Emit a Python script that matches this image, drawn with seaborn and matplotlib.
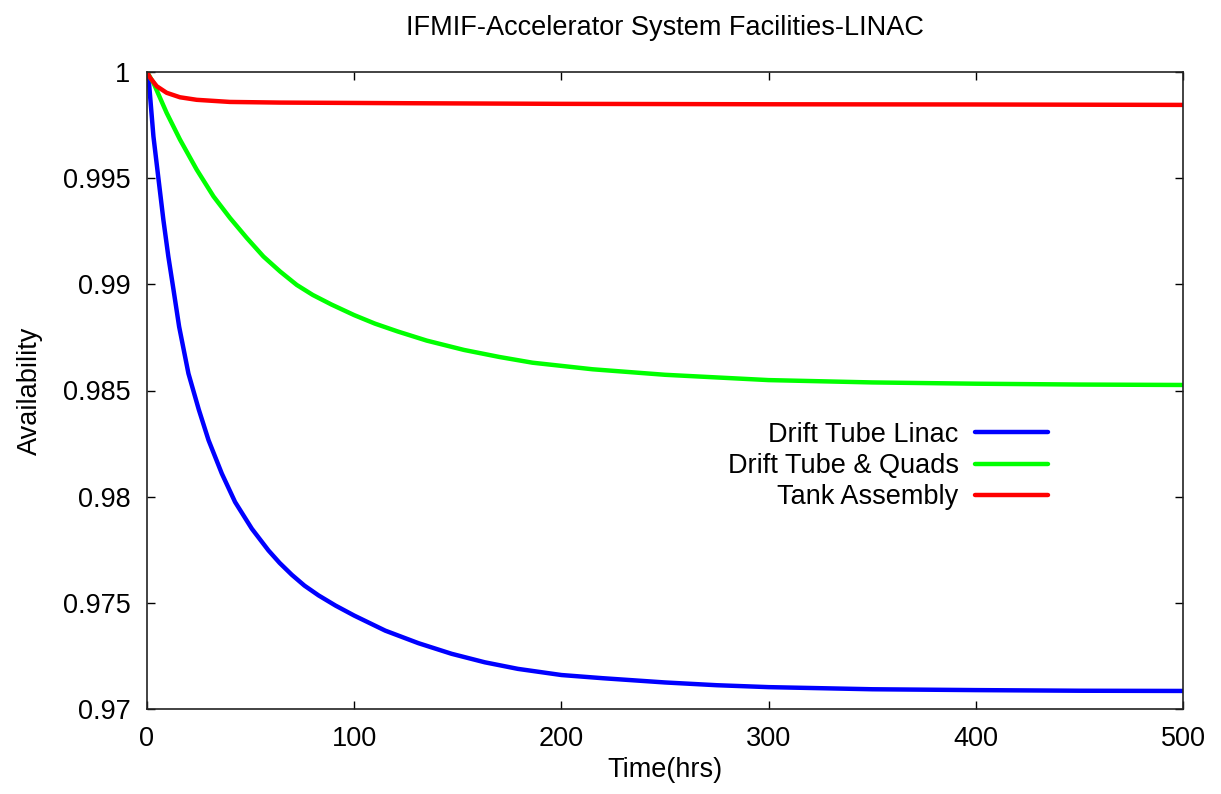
import pandas as pd
import matplotlib
matplotlib.use("Agg")
import matplotlib.pyplot as plt
import seaborn as sns

# values
dtl_t = [0, 0.7, 3.1, 5.5, 7.9, 10.3, 12.8, 15.5, 20, 25, 29.7, 36.1, 42.5, 50.6, 58.6, 64, 69.9, 76, 82.8,
         91, 100, 115, 131, 147, 163, 179, 200, 220, 250, 275, 300, 350, 400, 450, 500]
dtl_a = [1.0, 0.9998, 0.99697, 0.9950, 0.99304, 0.99131, 0.98974, 0.98801, 0.9858, 0.9841, 0.98266, 0.98109,
         0.97975, 0.97849, 0.97747, 0.97688, 0.97632, 0.97581, 0.97535, 0.97487, 0.9744, 0.97369, 0.9731,
         0.9726, 0.9722, 0.97189, 0.9716, 0.97145, 0.97125, 0.97112, 0.97103, 0.97093, 0.97089, 0.97086, 0.97085]

quad_t = [0, 3.1, 9.5, 15.9, 24, 32.1, 40.1, 48.2, 56.2, 64.3, 72.3, 80, 89, 100, 110, 121, 135, 153, 170,
          186, 215, 250, 300, 350, 400, 450, 500]
quad_a = [1.0, 0.99949, 0.99807, 0.99682, 0.9954, 0.99414, 0.99312, 0.99218, 0.99131, 0.9906, 0.98997,
          0.98950, 0.98905, 0.98855, 0.98815, 0.98778, 0.98735, 0.98691, 0.98658, 0.98631, 0.98600,
          0.98574, 0.98549, 0.98538, 0.98532, 0.98528, 0.98526]

tank_t = [0, 1.5, 4.7, 9.5, 15.9, 24, 40, 64, 125, 200, 300, 400, 500]
tank_a = [1.0, 0.99973, 0.99933, 0.99902, 0.99881, 0.99869, 0.99859, 0.99856, 0.99853, 0.99850, 0.99848,
          0.99847, 0.99845]

series_names = ["Drift Tube Linac", "Drift Tube & Quads", "Tank Assembly"]
series_colors = ["#0000ff", "#00ff00", "#ff0000"]


def build_frame():
    frames = []
    for name, t, a in zip(series_names, [dtl_t, quad_t, tank_t], [dtl_a, quad_a, tank_a]):
        frames.append(pd.DataFrame({"Time": t, "Availability": a, "Series": name}))
    return pd.concat(frames, ignore_index=True)


def main():
    sns.set_theme(style="ticks")
    plt.rcParams["font.family"] = ["Liberation Sans", "DejaVu Sans"]
    plt.rcParams["text.color"] = "black"
    plt.rcParams["axes.labelcolor"] = "black"
    fs = 19.5

    df = build_frame()

    fig = plt.figure(figsize=(12.21, 7.94), dpi=100)
    ax = fig.add_axes([147 / 1221, 1 - 709 / 794, (1183 - 147) / 1221, (709 - 72) / 794])

    sns.lineplot(data=df, x="Time", y="Availability", hue="Series", hue_order=series_names,
                 palette=series_colors, linewidth=3.2, ax=ax, legend=False)

    ax.set_xlim(0, 500)
    ax.set_ylim(0.97, 1.0)
    ax.set_xticks([0, 100, 200, 300, 400, 500])
    ax.set_yticks([0.97, 0.975, 0.98, 0.985, 0.99, 0.995, 1.0])
    ax.set_yticklabels(["0.97", "0.975", "0.98", "0.985", "0.99", "0.995", "1"])
    ax.tick_params(direction="in", length=6, width=1, top=True, right=True,
                   labelsize=fs, colors="black", pad=12)
    for sp in ax.spines.values():
        sp.set_visible(True)
        sp.set_color("#222222")
        sp.set_linewidth(1.2)

    ax.set_xlabel("Time(hrs)", fontsize=fs, labelpad=4)
    ax.set_ylabel("Availability", fontsize=fs, labelpad=14)
    fig.text(0.5 * (147 + 1183) / 1221, 1 - 28 / 794, "IFMIF-Accelerator System Facilities-LINAC",
             fontsize=fs, ha="center", va="center")

    handles = [plt.Line2D([], [], color=c, linewidth=3.2, solid_capstyle="round") for c in series_colors]
    ax.legend(handles, series_names, loc="center right",
              bbox_to_anchor=((1048 - 147) / 1036, (709 - 466) / 637),
              frameon=False, markerfirst=False, fontsize=fs, handlelength=2.7,
              handletextpad=0.6, labelspacing=0.2, borderpad=0, borderaxespad=0)

    fig.savefig("out.png", dpi=100)


if __name__ == "__main__":
    main()
